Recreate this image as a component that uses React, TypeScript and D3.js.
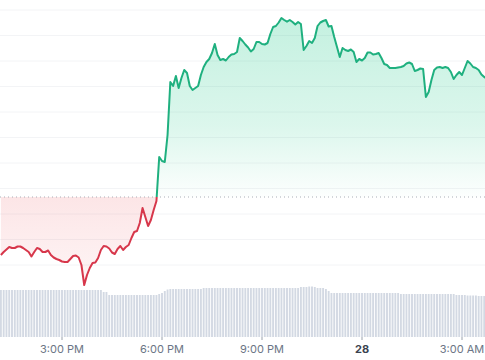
import React from "react";
import * as d3 from "d3";

const W = 485;
const H = 360;

// price (5‑minute steps starting 27th 13:10)
const prices = [
  1.1, 1.13, 1.155, 1.18, 1.17, 1.17, 1.185, 1.185, 1.17, 1.15,
  1.13, 1.085, 1.13, 1.17, 1.16, 1.13, 1.13, 1.145, 1.1, 1.075,
  1.06, 1.05, 1.035, 1.03, 1.03, 1.06, 1.09, 1.095, 1.075, 1.0,
  0.8, 0.9, 0.97, 1.02, 1.025, 1.07, 1.15, 1.19, 1.185, 1.165,
  1.125, 1.11, 1.16, 1.19, 1.15, 1.18, 1.2, 1.27, 1.33, 1.34,
  1.42, 1.57, 1.48, 1.39, 1.45, 1.55, 1.64, 2.08, 2.04, 2.03,
  2.3, 2.83, 2.79, 2.89, 2.77, 2.87, 2.95, 2.92, 2.79, 2.75,
  2.77, 2.79, 2.9, 2.98, 3.03, 3.06, 3.12, 3.21, 3.1, 3.05,
  3.06, 3.045, 3.08, 3.105, 3.11, 3.13, 3.27, 3.24, 3.205, 3.175,
  3.135, 3.16, 3.23, 3.23, 3.21, 3.205, 3.22, 3.31, 3.38, 3.39,
  3.425, 3.47, 3.45, 3.433, 3.45, 3.43, 3.405, 3.43, 3.41, 3.15,
  3.19, 3.24, 3.22, 3.27, 3.39, 3.425, 3.44, 3.45, 3.385, 3.39,
  3.28, 3.18, 3.08, 3.17, 3.15, 3.14, 3.155, 3.13, 3.03, 3.06,
  3.045, 3.07, 3.125, 3.125, 3.105, 3.11, 3.12, 3.07, 3.01, 3.0,
  2.97, 2.97, 2.97, 2.975, 2.98, 2.99, 3.015, 3.025, 3.01, 2.94,
  2.95, 2.965, 2.96, 2.68, 2.73, 2.85, 2.95, 2.975, 2.98, 2.97,
  2.98, 2.97, 2.93, 2.86, 2.9, 2.93, 2.9, 2.97, 3.04, 3.015,
  2.98, 2.97, 2.95, 2.905, 2.88, 2.86,
];

// volume per 5‑minute bar
const volumes = [
  94, 94, 94, 94, 94, 94, 94, 94, 94, 94,
  94, 94, 94, 94, 94, 94, 94, 94, 94, 94,
  94, 94, 94, 94, 94, 94, 94, 94, 94, 94,
  94, 94, 94, 94, 94, 94, 94, 90, 90, 84,
  84, 84, 84, 84, 84, 84, 84, 84, 84, 84,
  84, 84, 84, 84, 84, 84, 84, 86, 88, 92,
  95, 96, 96, 96, 96, 96, 96, 96, 96, 96,
  96, 96, 96, 98, 98, 98, 98, 98, 98, 98,
  98, 98, 98, 98, 98, 98, 98, 98, 98, 98,
  98, 98, 98, 98, 98, 98, 98, 98, 98, 98,
  98, 98, 98, 98, 98, 98, 98, 98, 100, 100,
  100, 101, 101, 100, 98, 98, 98, 96, 92, 88,
  88, 88, 88, 88, 88, 88, 88, 88, 88, 88,
  88, 88, 88, 88, 88, 88, 88, 88, 88, 88,
  88, 88, 88, 88, 86, 86, 86, 86, 86, 86,
  86, 86, 86, 86, 86, 86, 86, 86, 86, 86,
  86, 86, 86, 86, 84, 84, 84, 84, 83, 83,
  83, 83, 82, 82, 82, 82,
];

const baselinePrice = 1.68;
const gridValues = [1.0, 1.255, 1.51, 1.765, 2.02, 2.275, 2.53, 2.785, 3.04, 3.295, 3.55];
const tickTimes = [
  new Date(2024, 0, 27, 15, 0),
  new Date(2024, 0, 27, 18, 0),
  new Date(2024, 0, 27, 21, 0),
  new Date(2024, 0, 28, 0, 0),
  new Date(2024, 0, 28, 3, 0),
];
const tickLabels = ["3:00 PM", "6:00 PM", "9:00 PM", "28", "3:00 AM"];
const boldTicks = [false, false, false, true, false];

export default function App() {
  const start = new Date(2024, 0, 27, 13, 10).getTime();
  const data = prices.map((p, i) => ({
    t: new Date(start + i * 5 * 60000),
    p,
    v: volumes[i],
  }));

  const x = d3
    .scaleTime()
    .domain([new Date(2024, 0, 27, 13, 8, 24), new Date(2024, 0, 28, 3, 41, 24)])
    .range([0, W]);
  const y = d3.scaleLinear().domain([1.0, 3.55]).range([265, 10]);
  const yv = d3.scaleLinear().domain([0, 120]).range([337, 277]);

  const by = y(baselinePrice);
  const line = d3
    .line<any>()
    .x((d) => x(d.t))
    .y((d) => y(d.p));
  const area = d3
    .area<any>()
    .x((d) => x(d.t))
    .y0(by)
    .y1((d) => y(d.p));

  const step = x(data[1].t) - x(data[0].t);
  const bw = step * 0.68;

  const font = "Inter, 'Noto Sans', sans-serif";

  return (
    <svg
      width={W}
      height={H}
      style={{ position: "absolute", left: 0, top: 0, background: "#fff" }}
    >
      <defs>
        <linearGradient id="gUp" gradientUnits="userSpaceOnUse" x1="0" x2="0" y1={y(3.45)} y2={by}>
          <stop offset="0" stopColor="#16c784" stopOpacity={0.25} />
          <stop offset="0.6" stopColor="#16c784" stopOpacity={0.15} />
          <stop offset="1" stopColor="#16c784" stopOpacity={0.01} />
        </linearGradient>
        <linearGradient id="gDown" gradientUnits="userSpaceOnUse" x1="0" x2="0" y1={by} y2={y(0.8)}>
          <stop offset="0" stopColor="#ea3943" stopOpacity={0.13} />
          <stop offset="1" stopColor="#ea3943" stopOpacity={0.05} />
        </linearGradient>
        <clipPath id="cUp">
          <rect x={0} y={0} width={W} height={by} />
        </clipPath>
        <clipPath id="cDown">
          <rect x={0} y={by} width={W} height={H - by} />
        </clipPath>
      </defs>

      {gridValues.map((g, i) => (
        <line key={i} x1={0} x2={W} y1={y(g)} y2={y(g)} stroke="#f3f4f6" strokeWidth={1} />
      ))}

      {data.map((d, i) => (
        <rect
          key={i}
          x={x(d.t) - bw / 2}
          y={yv(d.v)}
          width={bw}
          height={yv(0) - yv(d.v)}
          fill="#d3d9e3"
        />
      ))}

      <path d={area(data) || ""} fill="url(#gUp)" clipPath="url(#cUp)" />
      <path d={area(data) || ""} fill="url(#gDown)" clipPath="url(#cDown)" />

      <line
        x1={0}
        x2={W}
        y1={by}
        y2={by}
        stroke="#a9aeb6"
        strokeWidth={1}
        strokeDasharray="1 3"
      />

      <path
        d={line(data) || ""}
        fill="none"
        stroke="#1fb07f"
        strokeWidth={2}
        strokeLinejoin="round"
        clipPath="url(#cUp)"
      />
      <path
        d={line(data) || ""}
        fill="none"
        stroke="#d7374b"
        strokeWidth={2}
        strokeLinejoin="round"
        clipPath="url(#cDown)"
      />

      {tickTimes.map((t, i) => (
        <g key={i} transform={`translate(${x(t)},0)`}>
          <line y1={337} y2={340} stroke="#9aa1ab" strokeWidth={1} />
          <text
            y={353}
            textAnchor="middle"
            fontFamily={font}
            fontSize={11}
            fontWeight={boldTicks[i] ? 700 : 400}
            fill={boldTicks[i] ? "#3b4350" : "#6b7585"}
          >
            {tickLabels[i]}
          </text>
        </g>
      ))}
    </svg>
  );
}
